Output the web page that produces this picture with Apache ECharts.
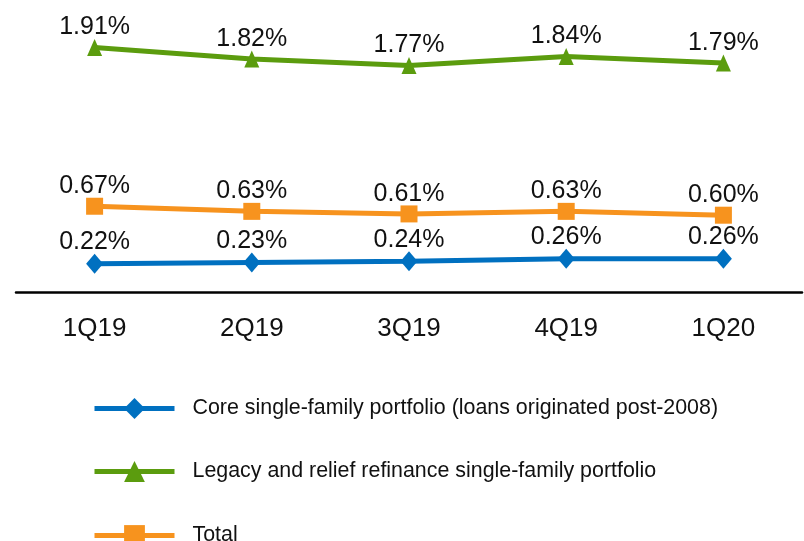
<!DOCTYPE html>
<html>
<head>
<meta charset="utf-8">
<script src="https://cdn.jsdelivr.net/npm/echarts@6/dist/echarts.min.js"></script>
<style>
  html, body { margin: 0; padding: 0; background: #fff; }
  #chart { width: 804px; height: 541px; }
</style>
</head>
<body>
<div id="chart"></div>
<script>
var categories = ["1Q19", "2Q19", "3Q19", "4Q19", "1Q20"];
var coreValues = [0.22, 0.23, 0.24, 0.26, 0.26];
var legacyValues = [1.91, 1.82, 1.77, 1.84, 1.79];
var totalValues = [0.67, 0.63, 0.61, 0.63, 0.60];
var seriesNames = [
  "Core single-family portfolio (loans originated post-2008)",
  "Legacy and relief refinance single-family portfolio",
  "Total"
];
var legendTops = [393, 456, 520];

var font = "'Liberation Sans', Arial, sans-serif";

function lineSeries(name, data, color, symbol, size) {
  return {
    name: name,
    type: "line",
    data: data,
    symbol: symbol,
    symbolSize: size,
    showAllSymbol: true,
    lineStyle: { color: color, width: 5 },
    itemStyle: { color: color },
    label: {
      show: true,
      position: "top",
      distance: -1,
      color: "#111",
      fontSize: 25,
      fontFamily: font,
      formatter: function (p) {
        return p.value.toFixed(2) + "%";
      }
    },
    emphasis: { disabled: true },
    animation: false
  };
}

// one legend per row so they stack like the original
var legends = seriesNames.map(function (name, i) {
  return {
    orient: "vertical",
    left: 87,
    top: legendTops[i],
    itemWidth: 80,
    itemHeight: 26,
    data: [name],
    lineStyle: { width: 5 },
    textStyle: {
      fontSize: 21.4,
      fontFamily: font,
      color: "#111",
      padding: [0, 0, 0, 13]
    }
  };
});

var chart = echarts.init(document.getElementById("chart"));
chart.setOption({
  backgroundColor: "#fff",
  grid: {
    left: 16,
    right: 2,
    top: 36,
    bottom: 249
  },
  legend: legends,
  xAxis: {
    type: "category",
    data: categories,
    boundaryGap: true,
    axisLine: { lineStyle: { color: "#000", width: 2.5 } },
    axisTick: { show: false },
    axisLabel: {
      color: "#111",
      fontSize: 26,
      fontFamily: font,
      margin: 24
    }
  },
  yAxis: {
    type: "value",
    min: 0,
    max: 2,
    show: false,
    splitLine: { show: false }
  },
  series: [
    lineSeries(seriesNames[0], coreValues, "#0070C0", "diamond", [17, 20]),
    lineSeries(seriesNames[1], legacyValues, "#5B9C0E", "triangle", [15, 17]),
    lineSeries(seriesNames[2], totalValues, "#F7931E", "rect", 17)
  ]
});
</script>
</body>
</html>
